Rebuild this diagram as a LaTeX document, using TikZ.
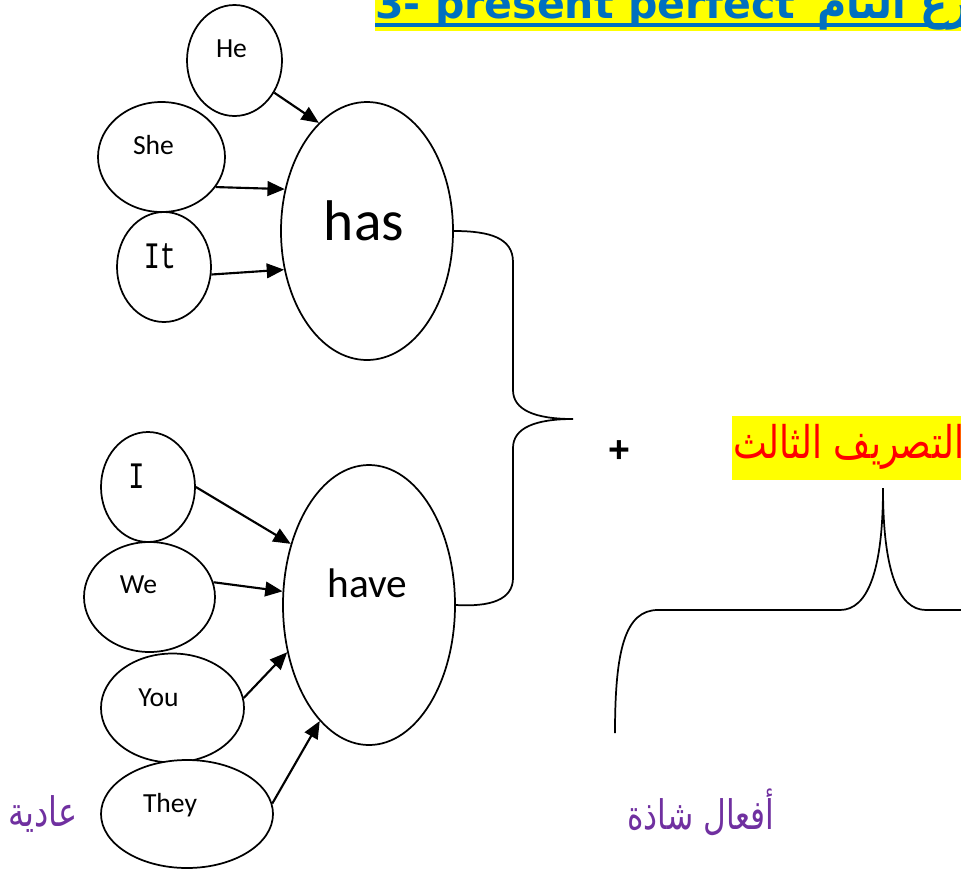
\documentclass[tikz,border=0pt]{standalone}
\usepackage{fontspec}
\setmainfont{Carlito}
\newfontfamily\arabicfont[Script=Arabic]{DejaVu Sans}
\newfontfamily\monofont{Liberation Mono}
\newfontfamily\titlefont{DejaVu Sans}
\newfontfamily\plusfont{Liberation Sans}
\usetikzlibrary{shapes.geometric,arrows.meta}
\TeXXeTstate=1
\definecolor{titleblue}{RGB}{0,112,192}
\definecolor{hiyellow}{RGB}{255,255,0}
\definecolor{wordpurple}{RGB}{112,48,160}
\begin{document}
\begin{tikzpicture}[x=0.75pt,y=-0.75pt,
  ell/.style={ellipse,draw,line width=1.3pt,fill=white,inner sep=0pt},
  pron/.style={anchor=base,inner sep=0pt,font=\fontsize{20.7}{24}\selectfont},
  arr/.style={line width=1.6pt,-{Triangle[length=13pt,width=11pt]}},
  bracestyle/.style={line width=1.3pt},
  arlabel/.style={inner sep=0pt,anchor=base west,text=wordpurple,font=\arabicfont\fontsize{23.5}{28}\selectfont}]

\useasboundingbox (0,0) rectangle (961,872);
\clip (0,0) rectangle (961,872);

% title
\fill[hiyellow] (375,-5) rectangle (975,30.7);
\fill[titleblue] (375,22.7) rectangle (975,27.3);
\node[anchor=base west,inner sep=0pt,text=titleblue] (titleEn) at (375,18)
  {\resizebox{315pt}{!}{\titlefont\bfseries 3- present perfect}};
\node[anchor=base west,inner sep=0pt,text=titleblue] (titleAr) at (817,18)
  {\scalebox{1}[1.2]{\arabicfont\bfseries\fontsize{30}{34}\selectfont\beginR المضارع التام\endR}};

% bottom-left label (behind They)
\node[arlabel] (regular) at (8,826) {\scalebox{1.02}[1.3]{\beginR عادية\endR}};

% ellipses
\node[ell,minimum width=71.25pt,minimum height=83.25pt] (he) at (234.5,60.5) {};
\node[ell,minimum width=95.25pt,minimum height=82.5pt] (she) at (161.5,157) {};
\node[ell,minimum width=70.5pt,minimum height=82.5pt] (it) at (164,267) {};
\node[ell,minimum width=129pt,minimum height=193.5pt] (has) at (367,231) {};
\node[ell,minimum width=70.5pt,minimum height=82.5pt] (i) at (148,487) {};
\node[ell,minimum width=98.25pt,minimum height=82.5pt] (we) at (149.5,597) {};
\node[ell,minimum width=107.25pt,minimum height=81.75pt] (you) at (172.5,708) {};
\node[ell,minimum width=129pt,minimum height=81pt] (they) at (187,814) {};
\node[ell,minimum width=129pt,minimum height=210pt] (have) at (369,605) {};

% texts
\node[pron] (heT) at (231.5,57) {He};
\node[pron] (sheT) at (153.5,154) {She};
\node[anchor=base,inner sep=0pt] (itT) at (160,268) {\scalebox{0.72}[1]{\monofont\fontsize{28}{30}\selectfont It}};
\node[anchor=base,inner sep=0pt,font=\fontsize{43}{48}\selectfont] (hasT) at (364,240.5) {has};
\node[anchor=base,inner sep=0pt] (iT) at (136.5,488) {\scalebox{0.72}[1]{\monofont\fontsize{28}{30}\selectfont I}};
\node[pron] (weT) at (138.5,593) {We};
\node[pron] (youT) at (158.5,706) {You};
\node[pron] (theyT) at (170,812) {They};
\node[anchor=base,inner sep=0pt,font=\fontsize{31}{36}\selectfont] (haveT) at (367.5,597) {have};

% arrows
\draw[arr] (he.-39) -- (has.114);
\draw[arr] (she.-29) -- (has.153);
\draw[arr] (it.-9) -- (has.205);
\draw[arr] (i.0) -- (have.142);
\draw[arr] (we.13) -- (have.171);
\draw[arr] (you.8) -- (have.210);
\draw[arr] (they.7) -- (have.247);

% big brace
\coordinate (braceTip) at (573,419);
\draw[bracestyle] (has.east) .. controls (490,231) and (513,238) .. (513,262)
  -- (513,390) .. controls (513,410) and (535,419) .. (braceTip)
  .. controls (535,419) and (513,428) .. (513,448)
  -- (513,578) .. controls (513,600) and (490,607) .. (have.east);

% plus
\node[font=\plusfont\bfseries\fontsize{28}{30}\selectfont,inner sep=0pt] (plus) at (619,452) {+};

% third form
\fill[hiyellow] (732,416) rectangle (975,480);
\node[inner sep=0pt,anchor=base west,text=red,font=\arabicfont\fontsize{27}{30}\selectfont] (third) at (733,458) {\scalebox{1}[1.25]{\beginR التصريف الثالث\endR}};

% lower brace
\coordinate (lowLeft) at (615,733);
\coordinate (lowTip) at (883,488);
\coordinate (lowRight) at (975,610);
\draw[bracestyle] (lowLeft) .. controls (615,650) and (625,610) .. (658,610)
  -- (840,610) .. controls (868,610) and (883,570) .. (lowTip)
  .. controls (883,570) and (898,610) .. (926,610) -- (lowRight);

% irregular label
\node[arlabel] (irregular) at (627,829) {\scalebox{1}[1.3]{\beginR أفعال شاذة\endR}};
\end{tikzpicture}
\end{document}
